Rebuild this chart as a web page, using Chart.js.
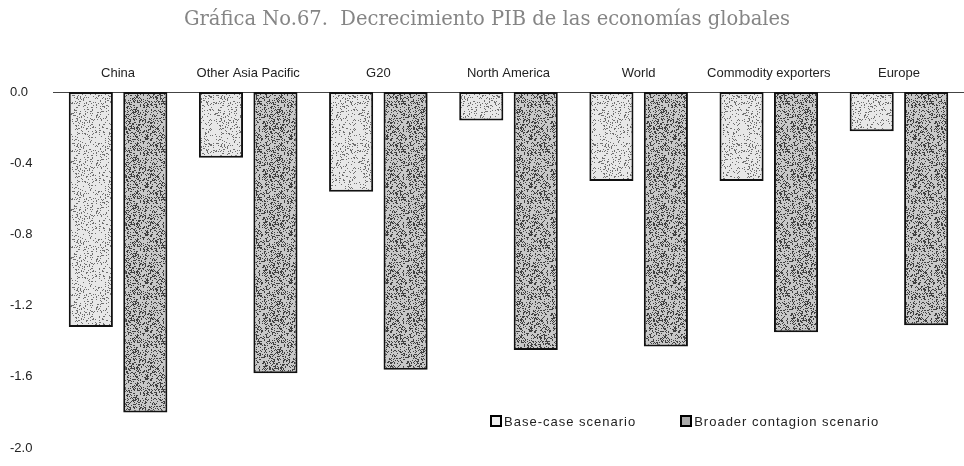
<!DOCTYPE html>
<html>
<head>
<meta charset="utf-8">
<script src="https://cdn.jsdelivr.net/npm/chart.js@4.4.1/dist/chart.umd.min.js"></script>
<style>
  html, body { margin: 0; padding: 0; background: #fff; }
  #wrap { position: relative; width: 964px; height: 466px; }
  #legend {
    position: absolute; left: 490px; top: 414px;
    font: 13px "Liberation Sans", Arial, sans-serif; color: #222;
    display: flex; gap: 44px; letter-spacing: 1px; white-space: nowrap;
  }
  #legend span.box {
    display: inline-block; width: 8px; height: 8px; border: 2px solid #000;
    margin-right: 2px; vertical-align: -1px;
  }
</style>
</head>
<body>
<div id="wrap">
  <canvas id="chart" width="964" height="466"></canvas>
  <div id="legend"></div>
</div>
<script>
const categories = ['China', 'Other Asia Pacific', 'G20', 'North America', 'World', 'Commodity exporters', 'Europe'];
const baseCase = [-1.32, -0.37, -0.56, -0.16, -0.50, -0.50, -0.22];
const broader = [-1.80, -1.58, -1.56, -1.45, -1.43, -1.35, -1.31];
const seriesNames = ['Base-case scenario', 'Broader contagion scenario'];
const yTicks = [0, -0.4, -0.8, -1.2, -1.6, -2.0];

// stippled fill like the scanned original
function stipple(bg, dark, density, seed) {
  const c = document.createElement('canvas');
  c.width = 48; c.height = 48;
  const g = c.getContext('2d');
  g.fillStyle = bg;
  g.fillRect(0, 0, 48, 48);
  let s = seed;
  const rnd = () => { s = (s * 1103515245 + 12345) % 2147483648; return s / 2147483648; };
  g.fillStyle = dark;
  for (let i = 0; i < 48 * 48 * density; i++) {
    g.fillRect(Math.floor(rnd() * 48), Math.floor(rnd() * 48), 1, 1);
  }
  return g.createPattern(c, 'repeat');
}

const lightFill = stipple('#e8e8e8', '#707070', 0.16, 7);
const darkFill = stipple('#c8c8c8', '#404040', 0.34, 11);

document.getElementById('legend').innerHTML =
  `<div><span class="box" style="background:#eee"></span>${seriesNames[0]}</div>` +
  `<div><span class="box" style="background:#aaa"></span>${seriesNames[1]}</div>`;

const tickFont = { family: '"Liberation Sans", Arial', size: 13 };

new Chart(document.getElementById('chart'), {
  type: 'bar',
  data: {
    labels: categories,
    datasets: [
      { label: seriesNames[0], data: baseCase, backgroundColor: lightFill, borderColor: '#111', borderWidth: 2, borderSkipped: false },
      { label: seriesNames[1], data: broader, backgroundColor: darkFill, borderColor: '#111', borderWidth: 2, borderSkipped: false }
    ]
  },
  options: {
    responsive: false,
    animation: false,
    layout: { padding: { left: 10, right: 0, top: 0, bottom: 18 } },
    datasets: { bar: { categoryPercentage: 0.837, barPercentage: 0.81 } },
    scales: {
      x: {
        position: 'top',
        grid: { display: false, drawTicks: false },
        border: { display: true, color: '#444', width: 1 },
        ticks: { color: '#222', padding: 11, font: tickFont }
      },
      y: {
        min: -2.0, max: 0,
        afterBuildTicks: axis => { axis.ticks = yTicks.map(v => ({ value: v })); },
        afterFit: axis => { axis.width = 43; },
        grid: { display: false, drawTicks: false },
        border: { display: false },
        ticks: {
          color: '#222', crossAlign: 'far',
          font: tickFont,
          callback: v => Number(v).toFixed(1)
        }
      }
    },
    plugins: {
      legend: { display: false },
      tooltip: { enabled: false },
      title: {
        display: true,
        text: 'Gráfica No.67.  Decrecimiento PIB de las economías globales',
        color: '#858585',
        font: { family: '"DejaVu Serif", serif', size: 19.5, weight: 'normal' },
        padding: { top: 8, bottom: 23 }
      }
    }
  }
});
</script>
</body>
</html>
